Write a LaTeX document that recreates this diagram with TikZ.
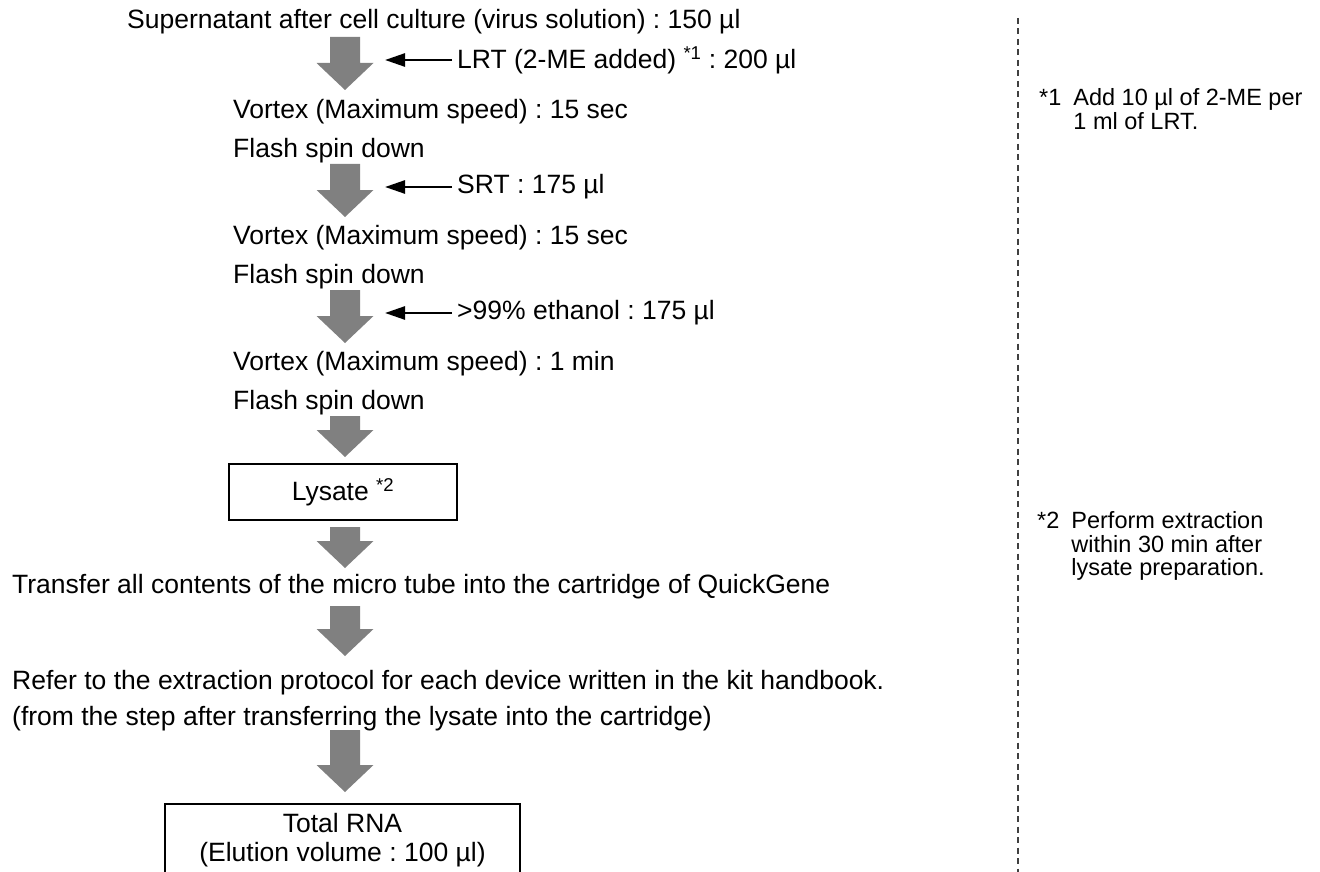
\documentclass[tikz,border=0pt]{standalone}
\usepackage{fontspec}
\setmainfont{Liberation Sans}
\usepackage{xcolor}
\definecolor{cFlow}{HTML}{808080}
\definecolor{cSep}{HTML}{404040}
\usetikzlibrary{arrows.meta,calc}
\frenchspacing
\tikzset{
  step-text/.style={anchor=west,inner sep=0pt,align=left,
    font=\fontsize{26.5}{36}\selectfont},
  side-text/.style={anchor=west,inner xsep=5pt,inner ysep=0pt,
    font=\fontsize{26.5}{30}\selectfont},
  note-text/.style={anchor=west,inner sep=0pt,
    font=\fontsize{23.5}{23}\selectfont},
  node-box/.style={draw,line width=1.5pt,inner sep=0pt,align=center,
    font=\fontsize{26.5}{29}\selectfont},
  arrow-add/.style={-{Triangle[length=20pt,width=13pt]},line width=2.6pt},
  separator/.style={draw=cSep,line width=1.3pt,dash pattern=on 6pt off 4.5pt},
}
% gray block arrow from coordinate #1 (top) to coordinate #2 (tip)
\newcommand{\flowdown}[2]{%
  \fill[cFlow] ($(#1)+(-15,0)$) -- ($(#1)+(15,0)$) -- ($(#2)+(15,-27)$)
    -- ($(#2)+(28.5,-27)$) -- (#2) -- ($(#2)+(-28.5,-27)$)
    -- ($(#2)+(-15,-27)$) -- cycle;}

\begin{document}
\begin{tikzpicture}[x=1pt,y=-1pt]
  \useasboundingbox (0,0) rectangle (1320,872);
  \clip (0,0) rectangle (1320,872);

  % main column
  \node[step-text] (sup) at (127,22) {Supernatant after cell culture (virus solution) : 150 µl};
  \node[step-text] (vx1) at (233,112) {Vortex (Maximum speed) : 15 sec};
  \node[step-text] (fs1) at (233,151) {Flash spin down};
  \node[step-text] (vx2) at (233,238) {Vortex (Maximum speed) : 15 sec};
  \node[step-text] (fs2) at (233,277) {Flash spin down};
  \node[step-text] (vx3) at (233,364) {Vortex (Maximum speed) : 1 min};
  \node[step-text] (fs3) at (233,403) {Flash spin down};
  \node[node-box,minimum width=228pt,minimum height=56pt] (lys) at (343,492) {Lysate \textsuperscript{*2}};
  \node[step-text] (trf) at (12,587) {Transfer all contents of the micro tube into the cartridge of QuickGene};
  \node[step-text] (ref) at (12,701) {Refer to the extraction protocol for each device written in the kit handbook.\\
    (from the step after transferring the lysate into the cartridge)};
  \node[node-box,minimum width=355pt,minimum height=100pt,anchor=north] (rnabox) at (342.5,803) {};
  \node[node-box,draw=none] (rna) at (342.5,840.5) {Total RNA\\(Elution volume : 100 µl)};

  % reagents added
  \node[side-text] (lrt) at (452,60) {LRT (2-ME added) \textsuperscript{*1} : 200 µl};
  \node[side-text] (srt) at (452,187) {SRT : 175 µl};
  \node[side-text] (eth) at (452,313) {>99\% ethanol : 175 µl};
  \coordinate (lrt-tip) at (385,60);
  \coordinate (srt-tip) at (385,187);
  \coordinate (eth-tip) at (385,313);
  \draw[arrow-add] (lrt.west) -- (lrt-tip);
  \draw[arrow-add] (srt.west) -- (srt-tip);
  \draw[arrow-add] (eth.west) -- (eth-tip);

  % flow arrows
  \coordinate (a1) at (345,37);  \coordinate (b1) at (345,90);
  \coordinate (a2) at (345,164); \coordinate (b2) at (345,217);
  \coordinate (a3) at (345,290); \coordinate (b3) at (345,343);
  \coordinate (a4) at (345,416); \coordinate (b4) at (345,457);
  \coordinate (a5) at (345,527); \coordinate (b5) at (345,568);
  \coordinate (a6) at (345,606); \coordinate (b6) at (345,656);
  \coordinate (a7) at (345,730); \coordinate (b7) at (345,792);
  \foreach \i in {1,...,7} {\flowdown{a\i}{b\i}}

  % notes
  \coordinate (sep-top) at (1018,18);
  \coordinate (sep-bot) at (1018,872);
  \draw[separator] (sep-top) -- (sep-bot);
  \node[note-text] (note1) at (1039,112.5) {\begin{tabular}{@{}l@{\hspace{12pt}}l@{}}
    *1 & Add 10 µl of 2-ME per\\ & 1 ml of LRT.\end{tabular}};
  \node[note-text] (note2) at (1037,547) {\begin{tabular}{@{}l@{\hspace{12pt}}l@{}}
    *2 & Perform extraction\\ & within 30 min after\\ & lysate preparation.\end{tabular}};
\end{tikzpicture}
\end{document}
